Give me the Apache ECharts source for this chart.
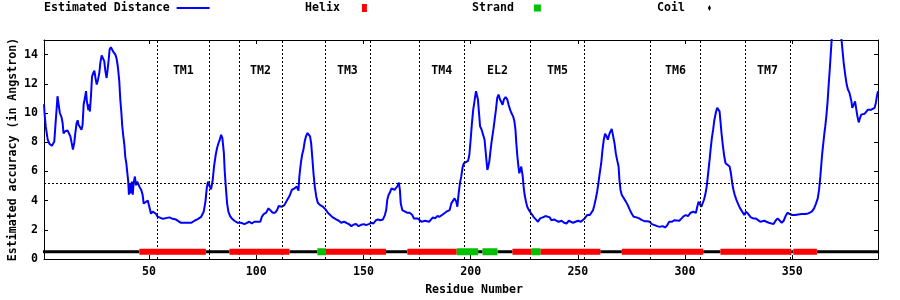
<!DOCTYPE html>
<html>
<head>
<meta charset="utf-8">
<script src="https://cdn.jsdelivr.net/npm/echarts@6/dist/echarts.min.js"></script>
<style>
html,body{margin:0;padding:0;background:#fff;}
#chart{width:900px;height:300px;}
</style>
</head>
<body>
<div id="chart"></div>
<script>
// ---- data ----
const distX = [1.0,1.3,1.8,2.7,3.5,4.7,5.8,6.3,6.6,7.3,7.8,8.4,9.2,9.7,10.1,10.9,12.0,12.8,13.3,13.9,14.5,15.1,15.6,16.2,16.7,17.1,17.8,18.5,19.0,19.5,19.8,20.6,21.0,21.7,22.1,22.4,22.9,23.4,24.0,24.5,25.0,25.6,26.2,26.8,27.3,27.9,28.5,29.1,29.6,30.2,30.7,31.2,31.6,32.2,32.9,33.5,34.3,34.9,35.5,36.1,36.6,37.1,37.5,38.0,38.5,38.9,39.4,39.9,40.3,40.6,41.1,41.6,42.0,42.4,42.8,43.4,43.9,44.5,45.5,46.3,47.0,47.5,48.3,49.4,50.1,50.9,51.7,52.5,53.2,54.0,54.8,56.4,57.9,59.5,61.0,62.6,63.4,64.9,67.3,69.6,71.2,72.7,74.3,75.5,76.3,76.9,77.5,78.2,78.9,79.7,80.3,81.1,81.7,82.4,83.0,83.6,84.2,84.9,85.3,85.8,86.4,87.0,87.8,88.6,89.8,91.4,92.9,94.5,95.7,96.8,97.9,99.1,100.7,101.9,102.6,103.5,104.6,105.7,106.6,107.7,108.8,109.7,110.5,111.3,112.0,113.1,114.3,115.5,116.6,117.8,118.9,119.7,120.1,120.8,121.4,122.0,122.6,123.2,123.9,124.5,125.1,125.6,126.1,126.7,127.3,128.0,128.7,129.8,131.1,132.3,133.4,134.5,135.7,137.3,138.5,139.6,140.9,142.0,143.2,144.4,145.5,146.6,147.7,148.9,150.2,151.2,152.5,153.6,154.7,155.6,156.7,157.9,159.1,160.0,160.6,161.1,161.7,162.5,163.1,163.7,164.5,165.3,165.9,166.5,167.0,167.4,168.1,169.0,170.3,171.5,172.8,173.5,174.3,175.3,176.2,177.1,177.9,178.8,179.6,180.6,181.5,182.4,183.4,184.4,185.5,186.4,187.6,188.7,190.2,191.0,191.8,192.5,193.3,193.8,194.4,195.0,195.6,196.3,196.9,197.8,198.8,199.4,200.0,200.6,201.2,201.9,202.5,203.0,203.4,203.9,204.4,205.0,205.8,206.5,207.2,207.8,208.2,208.7,209.3,209.9,210.6,211.2,211.8,212.4,213.0,213.7,214.3,214.9,215.5,216.3,217.1,217.7,218.4,219.0,219.8,220.4,220.9,221.3,221.8,222.3,222.7,223.2,223.6,224.3,224.7,225.2,225.8,226.4,227.2,228.0,228.8,229.5,230.4,231.4,232.4,233.6,234.9,235.8,236.9,237.7,238.9,240.0,241.1,242.4,243.6,244.7,245.8,246.7,247.8,248.9,250.1,251.4,252.3,253.2,254.3,255.6,256.5,257.1,257.7,258.4,259.0,259.6,260.2,260.9,261.5,262.1,262.7,263.4,264.0,264.6,265.2,265.8,266.5,267.1,267.7,268.3,269.0,269.4,269.9,270.5,271.5,272.4,273.3,274.3,275.2,276.1,277.4,278.6,279.9,281.1,282.3,283.6,284.5,285.8,287.0,288.2,289.5,290.7,291.7,292.6,293.8,295.1,296.0,297.3,298.4,299.4,300.4,301.4,302.6,303.8,305.1,305.7,306.3,307.0,307.6,308.2,308.8,309.4,310.1,310.7,311.3,311.9,312.5,313.1,313.7,314.4,315.0,315.5,316.1,316.6,317.0,317.6,318.3,318.9,319.8,320.8,321.4,322.0,322.6,323.2,324.0,324.8,325.7,326.7,327.6,328.4,329.5,330.7,331.8,332.9,334.1,335.1,336.0,337.0,338.0,339.1,340.0,341.3,342.2,343.2,344.1,345.1,346.0,346.9,347.8,348.8,350.0,351.3,352.8,354.4,356.0,357.5,359.1,360.2,361.1,361.9,362.5,363.1,363.6,364.0,364.5,365.0,365.4,365.9,366.5,367.0,367.5,367.9,368.4,369.2,370.5,372.0,373.0,373.4,374.0,374.8,375.4,376.0,376.7,377.1,377.6,378.0,378.7,379.3,379.9,380.4,381.0,381.6,382.2,383.0,383.8,384.5,385.3,386.1,386.9,387.8,388.4,389.0,389.5,390.0];
const distY = [10.6,9.9,9.1,8.2,7.9,7.75,8.05,9.1,9.7,11.15,10.6,10.0,9.7,9.3,8.6,8.75,8.8,8.9,8.4,7.95,7.5,7.95,8.6,9.3,9.5,9.2,9.3,8.85,9.2,10.6,10.8,11.5,10.8,10.2,10.6,10.1,11.15,12.5,12.75,12.9,12.4,11.95,12.3,12.75,13.45,13.95,14.0,13.55,12.9,12.4,13.0,13.7,14.35,14.5,14.4,14.15,14.0,13.7,13.1,12.2,10.9,10.0,9.1,8.4,7.8,7.0,6.55,5.85,5.3,4.4,5.2,4.5,5.3,4.4,5.2,5.65,5.05,5.3,4.95,4.75,4.4,3.8,3.85,4.0,3.6,3.1,3.25,3.15,3.1,2.9,2.8,2.75,2.8,2.85,2.75,2.7,2.62,2.48,2.48,2.48,2.62,2.73,2.89,3.24,3.93,4.84,5.3,5.0,4.77,5.42,6.33,7.14,7.59,7.94,8.17,8.51,8.28,7.25,5.99,4.96,3.81,3.24,2.94,2.78,2.62,2.48,2.48,2.39,2.48,2.55,2.43,2.55,2.55,2.55,2.89,3.08,3.17,3.47,3.35,3.17,3.17,3.35,3.63,3.76,3.58,3.69,4.0,4.31,4.73,4.84,4.96,4.68,5.64,6.56,7.14,7.48,8.05,8.4,8.63,8.74,8.4,7.94,7.02,5.87,4.96,4.27,3.85,3.69,3.58,3.4,3.17,3.01,2.85,2.71,2.62,2.48,2.55,2.48,2.39,2.25,2.36,2.39,2.25,2.34,2.39,2.32,2.39,2.48,2.43,2.62,2.71,2.66,2.71,3.01,3.35,4.04,4.38,4.61,4.84,4.96,4.73,4.84,5.0,5.23,4.73,3.81,3.35,3.24,3.17,3.17,3.01,2.78,2.66,2.78,2.71,2.55,2.48,2.62,2.71,2.55,2.66,2.85,2.78,2.94,2.89,3.01,3.12,3.24,3.35,3.81,4.0,4.15,3.93,3.58,4.5,5.19,5.64,6.33,6.56,6.67,6.72,7.14,8.17,9.31,10.23,10.92,11.49,11.6,10.92,10.0,9.08,8.9,8.86,8.17,7.02,6.1,6.33,6.67,7.48,8.17,8.86,9.54,10.23,11.04,11.26,10.92,10.8,10.57,10.92,11.1,10.92,10.57,10.23,10.0,9.77,9.43,8.86,7.94,7.02,6.33,5.87,6.1,6.33,5.64,4.96,4.38,3.93,3.58,3.35,3.17,3.01,2.85,2.71,2.55,2.78,2.85,2.94,3.01,2.85,2.66,2.71,2.62,2.55,2.62,2.48,2.43,2.62,2.66,2.48,2.55,2.62,2.55,2.6,2.78,3.01,3.01,3.08,3.35,3.69,4.15,4.61,5.19,5.87,6.56,7.48,8.17,8.58,8.4,8.17,8.51,8.74,8.9,8.86,7.94,7.25,6.79,6.33,5.42,4.73,4.38,4.15,3.93,3.69,3.35,3.08,2.89,2.85,2.78,2.66,2.59,2.59,2.55,2.39,2.32,2.25,2.2,2.25,2.16,2.32,2.55,2.55,2.66,2.78,2.62,2.78,2.94,3.01,2.94,3.17,3.24,3.17,3.58,3.93,3.81,3.58,3.69,4.04,4.38,4.96,5.76,6.56,7.48,8.28,8.86,9.54,10.05,10.35,10.41,10.11,9.31,8.63,7.82,7.02,6.56,6.44,6.33,5.87,5.19,4.73,4.38,4.04,3.76,3.47,3.24,3.01,3.24,3.08,2.85,2.78,2.78,2.66,2.55,2.48,2.62,2.55,2.48,2.39,2.39,2.62,2.78,2.66,2.48,2.62,2.94,3.17,3.08,3.01,3.01,3.05,3.08,3.08,3.12,3.24,3.47,3.81,4.15,4.73,5.64,6.56,7.25,7.94,8.63,9.08,9.77,10.8,11.95,12.98,13.9,15.05,16.2,16.8,16.2,15.0,14.36,13.44,12.53,11.95,11.6,11.38,11.49,10.8,10.35,10.57,10.8,10.23,9.77,9.36,9.66,9.89,9.77,9.95,9.89,10.23,10.32,10.23,10.23,10.35,10.69,11.15,11.5];

const xTickLabels = [50,100,150,200,250,300,350];
const yTickLabels = [0,2,4,6,8,10,12,14];

const regionNames = ['TM1','TM2','TM3','TM4','EL2','TM5','TM6','TM7'];
const regionStart = [54,92,132,176,197,228,284,328];
const regionEnd   = [78,112,153,197,228,253,307,349];
const regionLabelLevel = 12.9;
const thresholdLevel = 5.2;

const helixRanges  = [[46,76],[88,115],[133,160],[171,193],[220,228],[233,260],[271,308],[317,349],[351,361]];
const strandRanges = [[129,132],[194,203],[206,212],[229,232]];
const coilRanges   = [[1,45],[77,87],[116,128],[161,170],[204,205],[213,219],[261,270],[309,316],[350,350],[362,390]];
const ssLevel = 0.5;

// ---- build chart ----
const FONT = "'DejaVu Sans Mono', monospace";
const txt = {fontFamily: FONT, fontWeight: 'bold', fontSize: 11.6, color: '#000'};

const distData = distX.map((x, i) => [x, distY[i]]);
const rangesToData = r => r.flatMap(([a, b]) => [[a - 0.5, ssLevel], [b + 0.5, ssLevel], [b + 0.5, '-']]);
const boundaries = Array.from(new Set(regionStart.concat(regionEnd))).sort((a, b) => a - b);

const dotted = {color: '#000', width: 1, type: [2, 2]};

const chart = echarts.init(document.getElementById('chart'), null, {renderer: 'canvas'});
chart.setOption({
  animation: false,
  backgroundColor: '#fff',
  grid: {left: 44, right: 22, top: 40, bottom: 41, containLabel: false, outerBoundsMode: 'none'},
  legend: [
    {data: ['Estimated Distance'], left: 44, top: 2, padding: 0, align: 'right', icon: 'rect', itemWidth: 33, itemHeight: 2,
     textStyle: Object.assign({}, txt, {padding: [0, 2, 0, 0]}), selectedMode: false},
    {data: ['Helix'], left: 305, top: 2, padding: 0, align: 'right', icon: 'rect', itemWidth: 5, itemHeight: 8,
     textStyle: Object.assign({}, txt, {padding: [0, 17, 0, 0]}), selectedMode: false},
    {data: ['Strand'], left: 472, top: 2, padding: 0, align: 'right', icon: 'rect', itemWidth: 7, itemHeight: 7,
     textStyle: Object.assign({}, txt, {padding: [0, 15, 0, 0]}), selectedMode: false},
    {data: ['Coil'], left: 657, top: 2, padding: 0, align: 'right', icon: 'diamond', itemWidth: 3, itemHeight: 6,
     textStyle: Object.assign({}, txt, {padding: [0, 18, 0, 0]}), selectedMode: false}
  ],
  xAxis: [
    {type: 'value', min: 1, max: 390, position: 'bottom',
     name: 'Residue Number', nameLocation: 'middle', nameGap: 25, nameMoveOverlap: false,
     nameTextStyle: Object.assign({}, txt, {padding: [0, 0, 0, 26]}),
     axisLine: {show: true, onZero: false, lineStyle: {color: '#000', width: 1}},
     axisTick: {show: true, inside: true, length: 4, lineStyle: {color: '#000'}, customValues: xTickLabels},
     axisLabel: Object.assign({}, txt, {margin: 7, customValues: xTickLabels}),
     splitLine: {show: false}},
    {type: 'value', min: 1, max: 390, position: 'top',
     axisLine: {show: true, onZero: false, lineStyle: {color: '#000', width: 1}},
     axisTick: {show: true, inside: true, length: 4, lineStyle: {color: '#000'}, customValues: xTickLabels},
     axisLabel: {show: false}, splitLine: {show: false}}
  ],
  yAxis: [
    {type: 'value', min: 0, max: 15, position: 'left',
     name: 'Estimated accuracy (in Angstron)', nameLocation: 'middle', nameGap: 25, nameMoveOverlap: false,
     nameTextStyle: Object.assign({}, txt),
     axisLine: {show: true, onZero: false, lineStyle: {color: '#000', width: 1}},
     axisTick: {show: true, inside: true, length: 4, lineStyle: {color: '#000'}, customValues: yTickLabels},
     axisLabel: Object.assign({}, txt, {margin: 6, customValues: yTickLabels}),
     splitLine: {show: false}},
    {type: 'value', min: 0, max: 15, position: 'right',
     axisLine: {show: true, onZero: false, lineStyle: {color: '#000', width: 1}},
     axisTick: {show: true, inside: true, length: 4, lineStyle: {color: '#000'}, customValues: yTickLabels},
     axisLabel: {show: false}, splitLine: {show: false}}
  ],
  series: [
    {name: 'Estimated Distance', type: 'line', data: distData, color: '#0000ff',
     showSymbol: false, symbol: 'none', lineStyle: {width: 2, color: '#0000ff'}, z: 3, clip: true,
     markLine: {silent: true, symbol: 'none', label: {show: false}, lineStyle: dotted, animation: false,
       data: boundaries.map(b => ({xAxis: b})).concat([{yAxis: thresholdLevel}])}},
    {name: 'Coil', type: 'line', data: rangesToData(coilRanges), color: '#000',
     showSymbol: false, symbol: 'none', connectNulls: false, lineStyle: {width: 3, color: '#000'}, z: 4, clip: true},
    {name: 'Helix', type: 'line', data: rangesToData(helixRanges), color: '#ff0000',
     showSymbol: false, symbol: 'none', connectNulls: false, lineStyle: {width: 6, color: '#ff0000'}, z: 5, clip: true},
    {name: 'Strand', type: 'line', data: rangesToData(strandRanges), color: '#00c000',
     showSymbol: false, symbol: 'none', connectNulls: false, lineStyle: {width: 7, color: '#00c000'}, z: 6, clip: true},
    {name: 'regions', type: 'scatter', symbolSize: 0, silent: true, z: 7, itemStyle: {opacity: 1},
     data: regionNames.map((n, i) => ({name: n, value: [(regionStart[i] + regionEnd[i]) / 2, regionLabelLevel]})),
     label: Object.assign({show: true, position: 'inside', formatter: p => p.name}, txt)}
  ]
});
</script>
</body>
</html>
